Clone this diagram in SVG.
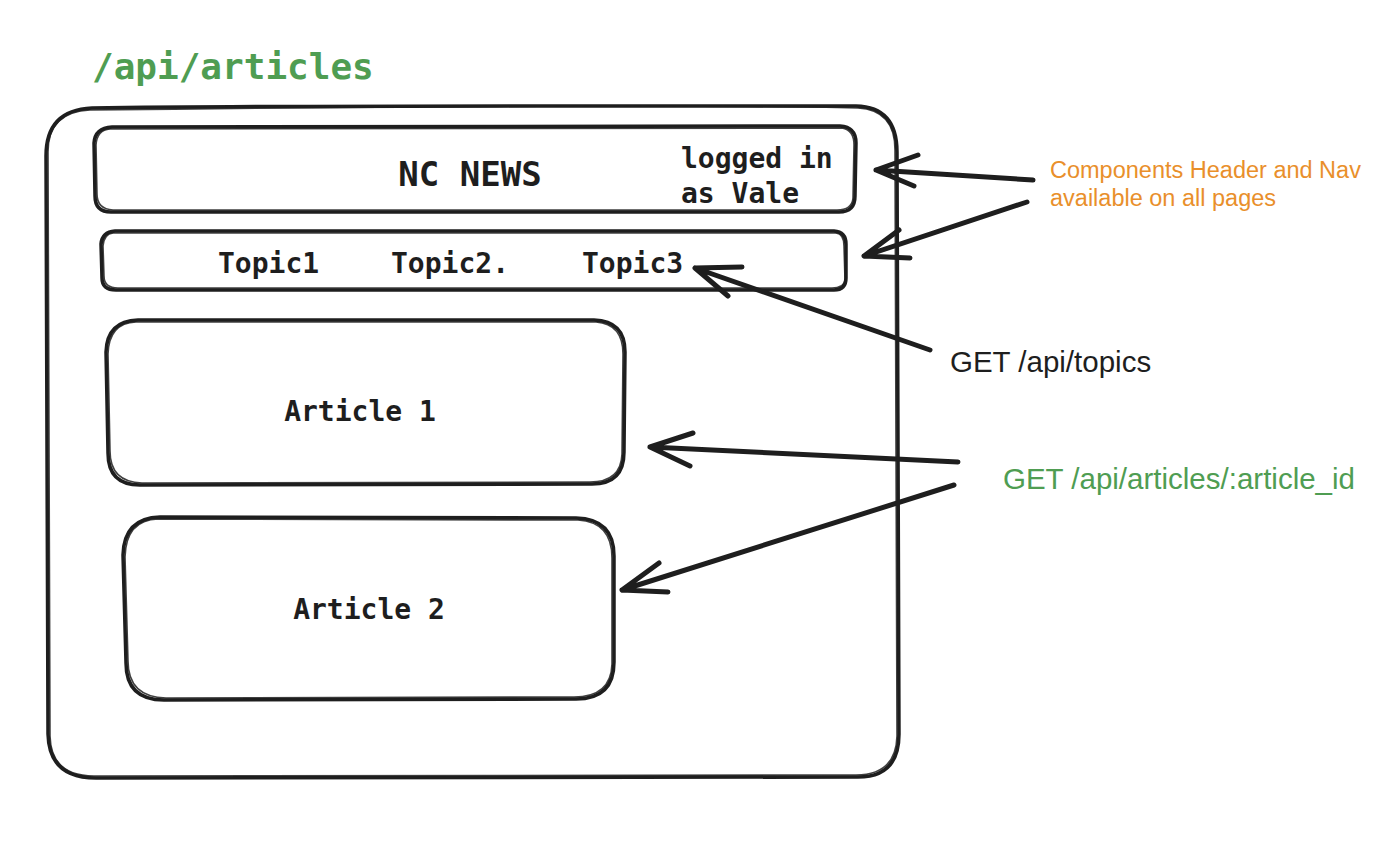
<svg xmlns="http://www.w3.org/2000/svg" width="1392" height="844" viewBox="0 0 1392 844">
<defs>
<style>
.box{fill:none;stroke:#1e1e1e;stroke-width:3.5;stroke-linecap:round;stroke-linejoin:round}
.box2{fill:none;stroke:#1e1e1e;stroke-width:1.6;stroke-linecap:round;stroke-linejoin:round;opacity:0.85}
.arr{fill:none;stroke:#1e1e1e;stroke-width:5;stroke-linecap:round;stroke-linejoin:round}
.mono{font-family:"DejaVu Sans Mono","Liberation Mono",monospace;font-weight:bold;fill:#1e1e1e}
.sans{font-family:"Liberation Sans",Arial,sans-serif}
</style>
</defs>
<rect width="1392" height="844" fill="#ffffff"/>
<text x="92" y="79" class="mono" font-size="36" style="fill:#4f9d52">/api/articles</text>

<g id="page">
<path class="box" d="M92,108 C300,105 700,106 856,106 Q897,107 897,152 L899,734 Q899,777 858,777 L96,778 Q49,778 48,734 L46,156 Q46,110 92,108 Z"/>
<path class="box2" d="M90,110 C320,107 690,104 858,108 Q895,110 895,150 L897,736 Q896,775 856,775 L94,776 Q51,776 50,736 L48,152 Q48,112 90,110"/>
</g>

<g id="header">
<path class="box" d="M112,127 L840,126 Q856,127 856,143 L855,196 Q855,212 839,212 L111,212 Q95,212 95,196 L94,143 Q95,128 112,127 Z"/>
<path class="box2" d="M110,129 L842,128 Q854,130 854,145 L853,198 Q852,210 837,210 L113,210 Q97,209 97,194 L96,145 Q97,130 110,129"/>
<text x="470" y="186" class="mono" font-size="34" text-anchor="middle">NC NEWS</text>
<text x="681" y="168" class="mono" font-size="28">logged in</text>
<text x="681" y="203" class="mono" font-size="28">as Vale</text>
</g>

<g id="nav">
<path class="box" d="M115,231 L834,231 Q846,232 846,244 L846,278 Q846,290 834,290 L116,290 Q102,290 102,278 L101,244 Q102,232 115,231 Z"/>
<path class="box2" d="M113,233 L836,233 Q844,234 844,246 L845,280 Q844,288 832,288 L118,288 Q104,288 104,276 L103,246 Q104,234 113,233"/>
<text x="218" y="273" class="mono" font-size="28">Topic1</text>
<text x="391" y="273" class="mono" font-size="28">Topic2.</text>
<text x="582" y="273" class="mono" font-size="28">Topic3</text>
</g>

<g id="article1">
<path class="box" d="M138,320 L594,320 Q625,321 625,352 L624,452 Q624,484 592,484 L140,485 Q108,485 108,453 L106,352 Q107,321 138,320 Z"/>
<path class="box2" d="M136,322 L596,322 Q623,324 623,354 L622,454 Q621,482 590,482 L142,483 Q110,482 110,451 L108,354 Q109,323 136,322"/>
<text x="360" y="421" class="mono" font-size="28" text-anchor="middle">Article 1</text>
</g>

<g id="article2">
<path class="box" d="M160,517 L576,518 Q614,519 614,556 L614,662 Q614,699 576,699 L164,700 Q126,700 126,663 L123,555 Q124,518 160,517 Z"/>
<path class="box2" d="M158,519 L578,520 Q612,522 612,558 L612,664 Q611,697 574,697 L166,698 Q128,697 128,661 L125,557 Q126,520 158,519"/>
<text x="369" y="619" class="mono" font-size="28" text-anchor="middle">Article 2</text>
</g>

<g id="connectors">
<path class="arr" d="M1033,180 L876,170 M876,170 L918,155 M876,170 L914,186"/>
<path class="arr" d="M1027,202 L864,256 M864,256 L899,230 M864,256 L910,258"/>
<path class="arr" d="M930,350 L695,268 M695,268 L742,267 M695,268 L728,296"/>
<path class="arr" d="M958,462 L650,447 M650,447 L693,433 M650,447 L690,466"/>
<path class="arr" d="M954,485 L622,590 M622,590 L659,563 M622,590 L668,592"/>
</g>

<g id="labels">
<text x="1050" y="178" class="sans" font-size="23.5" style="fill:#e98f2b">Components Header and Nav</text>
<text x="1050" y="206" class="sans" font-size="23.5" style="fill:#e98f2b">available on all pages</text>
<text x="950" y="372" class="sans" font-size="29.5" style="fill:#1e1e1e">GET /api/topics</text>
<text x="1003" y="489" class="sans" font-size="29.5" style="fill:#4f9d52">GET /api/articles/:article_id</text>
</g>
</svg>
